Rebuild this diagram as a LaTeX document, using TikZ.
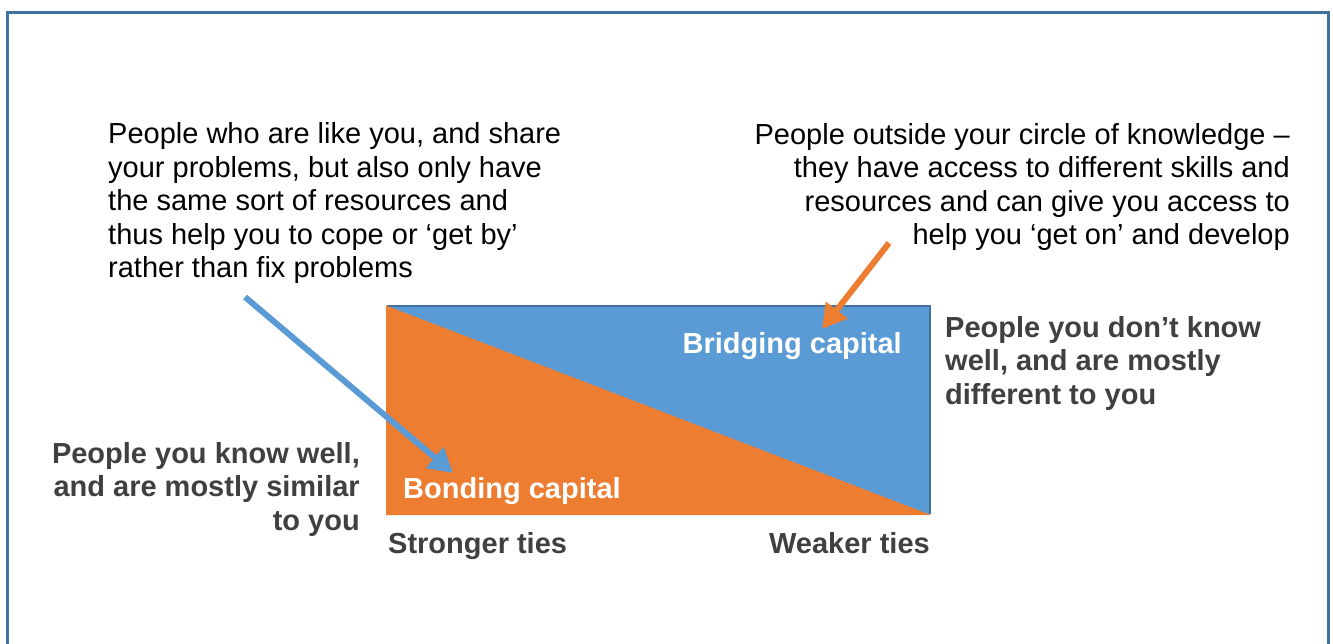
\documentclass[tikz,border=0pt]{standalone}
\usepackage{fontspec}
\setmainfont{Liberation Sans}
\usetikzlibrary{arrows.meta}
\definecolor{frameblue}{RGB}{65,113,156}
\definecolor{capblue}{RGB}{91,155,213}
\definecolor{caporange}{RGB}{237,125,49}
\definecolor{darktext}{RGB}{64,64,64}
\tikzset{
  plaintext/.style={inner sep=0pt, font=\fontsize{29}{33.5}\selectfont, text=black},
  boldtext/.style={inner sep=0pt, font=\fontsize{29}{33.5}\selectfont\bfseries, text=darktext},
  captext/.style={inner sep=0pt, font=\fontsize{29}{33.5}\selectfont\bfseries, text=white},
  pointer/.style={line width=6pt, -{Triangle[length=24pt,width=26pt]}}
}
\begin{document}
\begin{tikzpicture}[x=1pt,y=-1pt]
\useasboundingbox (0,0) rectangle (1333,643);
\clip (0,0) rectangle (1333,643);
% frame
\draw[frameblue, line width=3pt] (7.5,12.5) rectangle (1328,660);
% capital rectangle
\coordinate (rtl) at (387,306);
\coordinate (rtr) at (930,306);
\coordinate (rbr) at (930,514);
\fill[capblue] (rtl) rectangle (rbr);
\draw[frameblue, line width=1.5pt] (rtl) -- (rtr) -- (rbr);
\fill[caporange] (386,305.5) -- (931,515) -- (386,515) -- cycle;
% labels inside
\node[captext, anchor=base west] (bonding) at (403,498) {Bonding capital};
\node[captext, anchor=base east] (bridging) at (902,353) {Bridging capital};
% axis labels
\node[boldtext, anchor=base west] (strong) at (388,553) {Stronger ties};
\node[boldtext, anchor=base east] (weak) at (930,553) {Weaker ties};
% side descriptions
\node[boldtext, anchor=base east, align=right] (knowwell) at (360,530)
  {People you know well,\\and are mostly similar\\to you};
\node[boldtext, anchor=base west, align=left] (dontknow) at (945,404)
  {People you don’t know\\well, and are mostly\\different to you};
% top descriptions
\node[plaintext, anchor=base west, align=left] (likeyou) at (108,277.5)
  {People who are like you, and share\\your problems, but also only have\\the same sort of resources and\\thus help you to cope or ‘get by’\\rather than fix problems};
\node[plaintext, anchor=base east, align=right] (outside) at (1290,244.5)
  {People outside your circle of knowledge –\\they have access to different skills and\\resources and can give you access to\\help you ‘get on’ and develop};
% arrows
\coordinate (bluestart) at (245,297);
\coordinate (blueend) at (453,473);
\coordinate (orangestart) at (889,243);
\coordinate (orangeend) at (822,329);
\draw[pointer, capblue] (bluestart) -- (blueend);
\draw[pointer, caporange] (orangestart) -- (orangeend);
\end{tikzpicture}
\end{document}
